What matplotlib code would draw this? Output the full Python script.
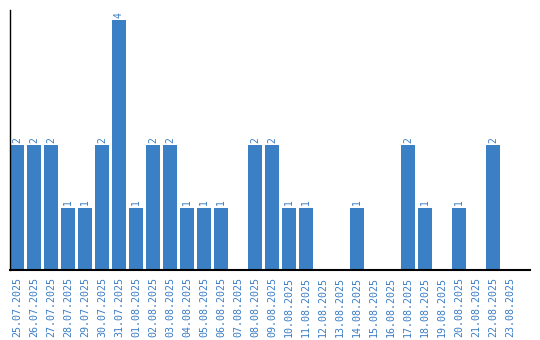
import matplotlib
matplotlib.use("Agg")
import matplotlib.pyplot as plt

dates = ["25.07.2025", "26.07.2025", "27.07.2025", "28.07.2025", "29.07.2025",
         "30.07.2025", "31.07.2025", "01.08.2025", "02.08.2025", "03.08.2025",
         "04.08.2025", "05.08.2025", "06.08.2025", "07.08.2025", "08.08.2025",
         "09.08.2025", "10.08.2025", "11.08.2025", "12.08.2025", "13.08.2025",
         "14.08.2025", "15.08.2025", "16.08.2025", "17.08.2025", "18.08.2025",
         "19.08.2025", "20.08.2025", "21.08.2025", "22.08.2025", "23.08.2025"]
values = [2, 2, 2, 1, 1, 2, 4, 1, 2, 2, 1, 1, 1, 0, 2, 2, 1, 1, 0, 0,
          1, 0, 0, 2, 1, 0, 1, 0, 2, 0]

bar_color = "#3b7fc4"
text_color = "#3b7dc4"

fig = plt.figure(figsize=(5.4, 3.4), dpi=100)
ax = fig.add_axes([10/540, 70/340, 520/540, 260/340])

x = list(range(len(values)))
w = 14/17
ax.bar(x, values, width=w, color=bar_color)
ax.set_xlim(-7/17, 30.18)
ax.set_ylim(0, 4.16)

for xi, v in zip(x, values):
    if v > 0:
        ax.text(xi, v + 0.04, str(v), rotation=90, ha="center", va="bottom",
                color=text_color, fontsize=7, family="DejaVu Sans Mono")

ax.set_xticks(x)
ax.set_xticklabels(dates, rotation=90, color=text_color, fontsize=7.2,
                   family="DejaVu Sans Mono")
ax.tick_params(axis="x", length=0, pad=5)
ax.set_yticks([])
for s in ["top", "right"]:
    ax.spines[s].set_visible(False)
ax.spines["left"].set_linewidth(1)
ax.spines["bottom"].set_linewidth(1.5)

fig.savefig("out.png", dpi=100)
